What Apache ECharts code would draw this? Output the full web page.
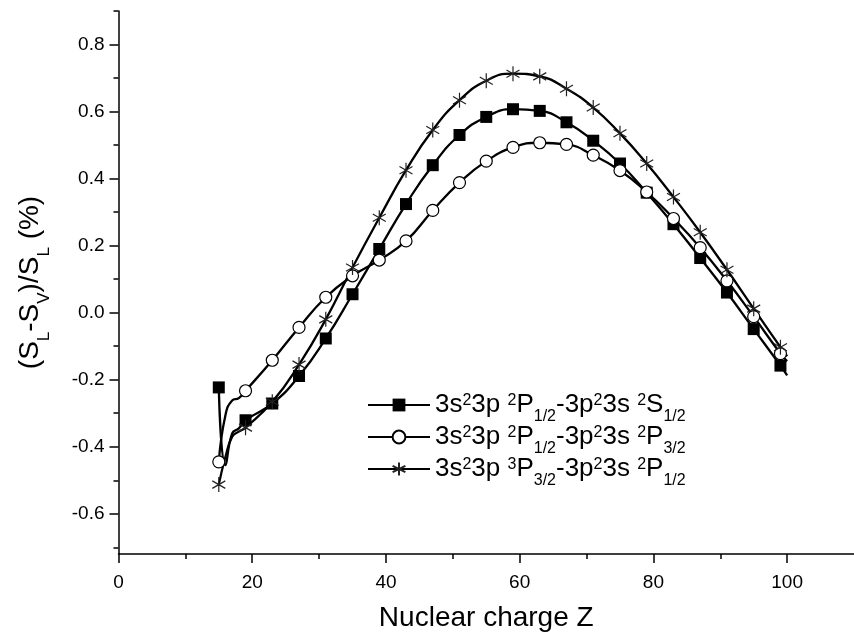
<!DOCTYPE html>
<html>
<head>
<meta charset="utf-8">
<script src="https://cdn.jsdelivr.net/npm/echarts@6/dist/echarts.min.js"></script>
<style>
html, body { margin: 0; padding: 0; background: #fff; }
#chart { width: 854px; height: 638px; }
</style>
</head>
<body>
<div id="chart"></div>
<script>
// nuclear charge Z for every point of the curves
const zValues = [15, 16, 17, 18, 19, 23, 27, 31, 35, 39, 43, 47, 51, 55, 59, 63, 67, 71, 75, 79, 83, 87, 91, 95, 99, 100]
// points that are on the curve only (no marker drawn)
const noMarkerZ = [16, 17, 18, 100]

// 3s2 3p 2P1/2 - 3p2 3s 2S1/2  (filled squares)
const squareVals = [-0.223, -0.455, -0.36, -0.345, -0.321, -0.271, -0.189, -0.077, 0.055, 0.19, 0.324, 0.44, 0.53, 0.584, 0.607, 0.602, 0.568, 0.513, 0.445, 0.358, 0.264, 0.163, 0.06, -0.049, -0.158, -0.187]
// 3s2 3p 2P1/2 - 3p2 3s 2P3/2  (open circles)
const circleVals = [-0.445, -0.305, -0.262, -0.255, -0.233, -0.142, -0.044, 0.046, 0.11, 0.157, 0.214, 0.305, 0.388, 0.452, 0.493, 0.507, 0.502, 0.47, 0.424, 0.36, 0.281, 0.194, 0.095, -0.012, -0.122, -0.145]
// 3s2 3p 3P3/2 - 3p2 3s 2P1/2  (asterisks)
const starVals = [-0.513, -0.43, -0.37, -0.355, -0.343, -0.266, -0.155, -0.02, 0.135, 0.283, 0.425, 0.545, 0.634, 0.692, 0.713, 0.705, 0.668, 0.612, 0.535, 0.445, 0.345, 0.24, 0.128, 0.012, -0.103, -0.13]

const xLabelValues = [0, 20, 40, 60, 80, 100]
const xMinorValues = [10, 30, 50, 70, 90]
const yLabelValues = [-0.6, -0.4, -0.2, 0.0, 0.2, 0.4, 0.6, 0.8]
const yMinorValues = [-0.7, -0.5, -0.3, -0.1, 0.1, 0.3, 0.5, 0.7, 0.9]

const seriesNames = [
  '3s²3p ²P1/2-3p²3s ²S1/2',
  '3s²3p ²P1/2-3p²3s ²P3/2',
  '3s²3p ³P3/2-3p²3s ²P1/2'
]
const legendRich = [
  '{n|3s}{sup|2}{n|3p }{sup|2}{n|P}{sub|1/2}{n|-3p}{sup|2}{n|3s }{sup|2}{n|S}{sub|1/2}',
  '{n|3s}{sup|2}{n|3p }{sup|2}{n|P}{sub|1/2}{n|-3p}{sup|2}{n|3s }{sup|2}{n|P}{sub|3/2}',
  '{n|3s}{sup|2}{n|3p }{sup|3}{n|P}{sub|3/2}{n|-3p}{sup|2}{n|3s }{sup|2}{n|P}{sub|1/2}'
]

const font = "'Liberation Sans', Arial, sans-serif"
const starPath = 'path://M0,-10L0,10M-8.66,-5L8.66,5M-8.66,5L8.66,-5'

function buildData (vals) {
  return zValues.map((z, i) => {
    let item = { value: [z, vals[i]] }
    if (noMarkerZ.indexOf(z) >= 0) item.symbol = 'none'
    return item
  })
}

const chart = echarts.init(document.getElementById('chart'))

const tickStyle = { color: '#000', width: 1.5 }
const axisLine = { show: true, onZero: false, lineStyle: { color: '#000', width: 1.5 } }
const hiddenLine = { show: false, onZero: false }

const option = {
  animation: false,
  backgroundColor: '#fff',
  grid: { left: 115, right: -7, top: 11, bottom: 84 },
  legend: {
    orient: 'vertical',
    left: 367,
    top: 385,
    padding: 0,
    itemWidth: 62,
    itemHeight: 16,
    itemGap: -8,
    selectedMode: false,
    data: seriesNames,
    formatter: name => legendRich[seriesNames.indexOf(name)],
    textStyle: {
      color: '#000',
      fontFamily: font,
      fontSize: 26,
      rich: {
        n: { fontFamily: font, fontSize: 26, lineHeight: 26, color: '#000', verticalAlign: 'middle' },
        sup: { fontFamily: font, fontSize: 16, lineHeight: 16, color: '#000', verticalAlign: 'middle', padding: [0, 0, 9, 0] },
        sub: { fontFamily: font, fontSize: 16, lineHeight: 16, color: '#000', verticalAlign: 'middle', padding: [24, 0, 0, 0] }
      }
    }
  },
  xAxis: [
    {
      type: 'value',
      min: 0,
      max: 110,
      axisLine: axisLine,
      axisTick: { show: true, length: 5, customValues: xMinorValues, lineStyle: tickStyle },
      axisLabel: {
        customValues: xLabelValues,
        color: '#000',
        fontFamily: font,
        fontSize: 19,
        margin: 19
      },
      splitLine: { show: false },
      name: 'Nuclear charge Z',
      nameLocation: 'middle',
      nameGap: 50,
      nameTextStyle: { color: '#000', fontFamily: font, fontSize: 28 }
    },
    {
      type: 'value',
      position: 'bottom',
      min: 0,
      max: 110,
      axisLine: hiddenLine,
      axisTick: { show: true, length: 9, customValues: xLabelValues, lineStyle: tickStyle },
      axisLabel: { show: false },
      splitLine: { show: false }
    }
  ],
  yAxis: [
    {
      type: 'value',
      min: -0.72,
      max: 0.9,
      axisLine: axisLine,
      axisTick: { show: true, length: 5, customValues: yMinorValues, lineStyle: tickStyle },
      axisLabel: {
        customValues: yLabelValues,
        formatter: v => v.toFixed(1),
        color: '#000',
        fontFamily: font,
        fontSize: 19,
        margin: 14
      },
      splitLine: { show: false },
      name: '{n|(S}{sub|L}{n|-S}{sub|V}{n|)/S}{sub|L}{n| (%)}',
      nameLocation: 'middle',
      nameGap: 74,
      nameTextStyle: {
        color: '#000',
        fontFamily: font,
        fontSize: 28,
        rich: {
          n: { fontFamily: font, fontSize: 28, lineHeight: 28, color: '#000', verticalAlign: 'middle' },
          sub: { fontFamily: font, fontSize: 17, lineHeight: 17, color: '#000', verticalAlign: 'middle', padding: [28, 0, 0, 0] }
        }
      }
    },
    {
      type: 'value',
      position: 'left',
      min: -0.72,
      max: 0.9,
      axisLine: hiddenLine,
      axisTick: { show: true, length: 9, customValues: yLabelValues, lineStyle: tickStyle },
      axisLabel: { show: false },
      splitLine: { show: false }
    }
  ],
  series: [
    {
      name: seriesNames[0],
      type: 'line',
      smooth: 0.5,
      symbol: 'rect',
      symbolSize: 12,
      lineStyle: { color: '#000', width: 2.3 },
      itemStyle: { color: '#000', borderColor: '#000', borderWidth: 0 },
      data: buildData(squareVals)
    },
    {
      name: seriesNames[1],
      type: 'line',
      smooth: 0.5,
      symbol: 'circle',
      symbolSize: 12,
      lineStyle: { color: '#000', width: 2.3 },
      itemStyle: { color: '#fff', borderColor: '#000', borderWidth: 1.2 },
      data: buildData(circleVals)
    },
    {
      name: seriesNames[2],
      type: 'line',
      smooth: 0.5,
      symbol: starPath,
      symbolSize: 15,
      symbolKeepAspect: true,
      lineStyle: { color: '#000', width: 2.3 },
      itemStyle: { color: '#000', borderColor: '#222', borderWidth: 1.2 },
      data: buildData(starVals)
    }
  ]
}

chart.setOption(option)
</script>
</body>
</html>
